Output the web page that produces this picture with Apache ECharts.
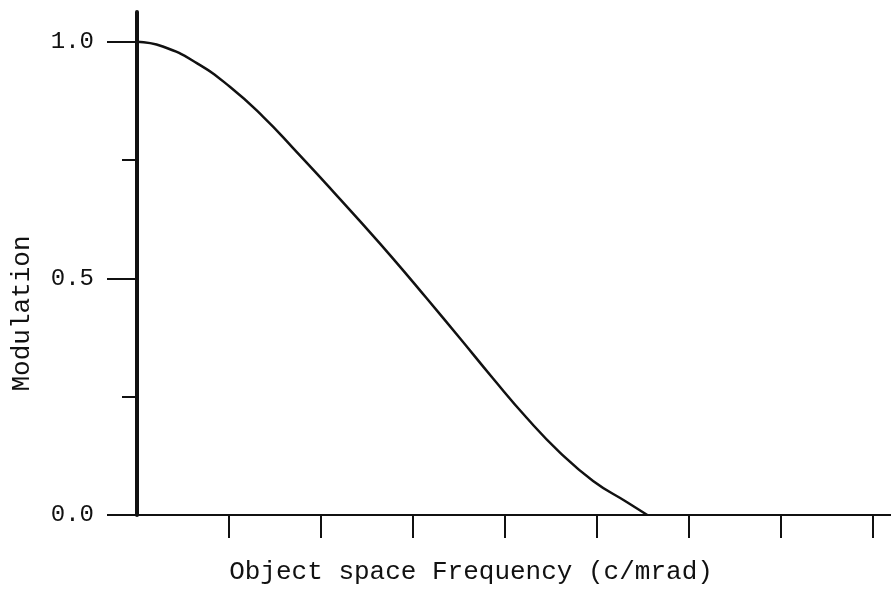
<!DOCTYPE html>
<html>
<head>
<meta charset="utf-8">
<script src="https://cdn.jsdelivr.net/npm/echarts@6/dist/echarts.min.js"></script>
<style>
  html, body { margin: 0; padding: 0; background: #fff; }
  #chart { width: 891px; height: 590px; }
</style>
</head>
<body>
<div id="chart"></div>
<script>
// frequency (c/mrad, in tick units) and modulation
const freq = [0, 0.28, 0.65, 1.01, 1.37, 1.70, 2.07, 2.42, 2.78, 3.15, 3.51, 3.87, 4.24, 4.60, 4.96, 5.33, 5.55];
const modulation = [1.0, 0.99, 0.955, 0.905, 0.842, 0.775, 0.697, 0.622, 0.543, 0.458, 0.374, 0.289, 0.205, 0.132, 0.072, 0.027, 0.0];
const xTicks = [1, 2, 3, 4, 5, 6, 7, 8];
const yMajorTicks = [0, 0.5, 1.0];
const yMinorTicks = [0.25, 0.75];

const font = '"Liberation Mono", "DejaVu Sans Mono", monospace';
const ink = '#111';

const chart = echarts.init(document.getElementById('chart'));

chart.setOption({
    animation: false,
    grid: { left: 137, right: 0, top: 12, bottom: 75 },
    xAxis: {
        type: 'value',
        min: 0,
        max: 8.2,
        name: 'Object space Frequency (c/mrad)',
        nameLocation: 'middle',
        nameGap: 44,
        nameTextStyle: { fontFamily: font, fontSize: 26, color: ink, padding: [0, 86, 0, 0] },
        axisLine: { lineStyle: { color: ink, width: 2 } },
        axisTick: { customValues: xTicks, length: 23, lineStyle: { color: ink, width: 2 } },
        axisLabel: { show: false },
        splitLine: { show: false }
    },
    yAxis: [{
        type: 'value',
        min: 0,
        max: 1.063,
        name: 'Modulation',
        nameLocation: 'middle',
        nameGap: 102,
        nameTextStyle: { fontFamily: font, fontSize: 26, color: ink, padding: [0, 100, 0, 0] },
        axisLine: { lineStyle: { color: ink, width: 4 } },
        axisTick: { customValues: yMajorTicks, length: 30, lineStyle: { color: ink, width: 2 } },
        axisLabel: {
            customValues: yMajorTicks,
            margin: 43,
            fontFamily: font,
            fontSize: 24,
            color: ink,
            formatter: v => v.toFixed(1)
        },
        splitLine: { show: false }
    }, {
        type: 'value',
        min: 0,
        max: 1.063,
        position: 'left',
        axisLine: { show: false },
        axisTick: { customValues: yMinorTicks, length: 15, lineStyle: { color: ink, width: 2 } },
        axisLabel: { show: false },
        splitLine: { show: false }
    }],
    series: [{
        type: 'line',
        data: freq.map((f, i) => [f, modulation[i]]),
        smooth: true,
        symbol: 'none',
        lineStyle: { color: ink, width: 2.5 }
    }]
});
</script>
</body>
</html>
